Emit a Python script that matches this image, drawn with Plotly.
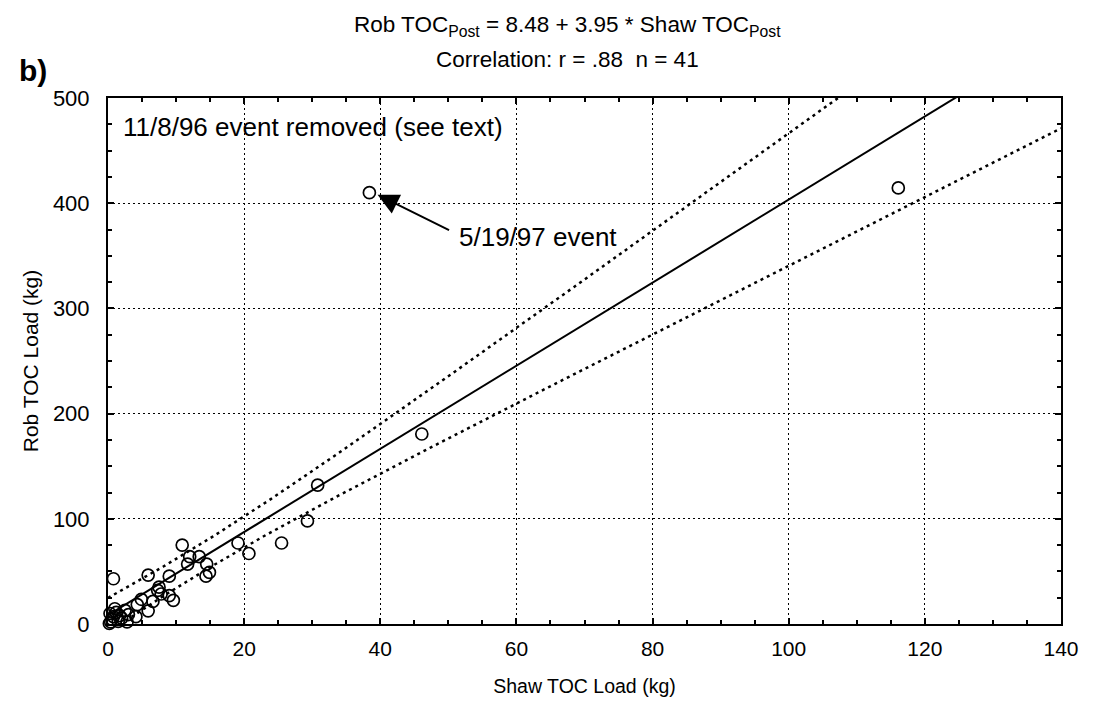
import numpy as np
import plotly.graph_objects as go

# Data
shaw_toc = [116.1, 38.4, 46.1, 30.8, 29.3, 25.5, 19.1, 20.7, 10.9, 12.0,
            13.4, 11.7, 14.5, 14.9, 14.4, 5.9, 9.0, 0.8, 7.5, 7.3,
            7.8, 9.0, 9.6, 4.9, 6.6, 4.3, 5.9, 4.1, 2.5, 1.0,
            0.8, 1.5, 0.4, 2.0, 0.3, 3.0, 0.6, 1.2, 2.8, 0.2, 1.7]
rob_toc = [414.5, 410.0, 180.6, 132.0, 98.0, 77.0, 77.0, 67.0, 75.0, 64.0,
           64.0, 57.0, 57.0, 49.0, 45.5, 46.5, 45.5, 43.0, 35.0, 32.0,
           28.5, 27.0, 22.5, 23.5, 21.5, 18.5, 12.5, 7.0, 13.0, 14.5,
           7.0, 2.5, 2.0, 5.5, 10.0, 9.0, 4.5, 11.0, 2.0, 0.5, 8.0]

intercept = 8.48
slope = 3.95
t_crit = 2.023  # t(0.975, n-2)

x_ticks = [0, 20, 40, 60, 80, 100, 120, 140]
y_ticks = [0, 100, 200, 300, 400, 500]

xa = np.array(shaw_toc)
ya = np.array(rob_toc)
n = len(xa)
xm = xa.mean()
sxx = ((xa - xm) ** 2).sum()
resid = ya - (intercept + slope * xa)
s = np.sqrt((resid ** 2).sum() / (n - 2))

xg = np.linspace(0, 140, 400)
yfit = intercept + slope * xg
half = t_crit * s * np.sqrt(1.0 / n + (xg - xm) ** 2 / sxx)

FONT = "Liberation Sans, Arial, Helvetica, sans-serif"

fig = go.Figure()
fig.add_trace(go.Scatter(x=xg, y=yfit + half, mode="lines",
                         line=dict(color="black", width=2.5, dash="3px,4px"),
                         hoverinfo="skip"))
fig.add_trace(go.Scatter(x=xg, y=yfit - half, mode="lines",
                         line=dict(color="black", width=2.5, dash="3px,4px"),
                         hoverinfo="skip"))
fig.add_trace(go.Scatter(x=xg, y=yfit, mode="lines",
                         line=dict(color="black", width=2)))
fig.add_trace(go.Scatter(x=shaw_toc, y=rob_toc, mode="markers",
                         cliponaxis=False,
                         marker=dict(symbol="circle-open", size=12,
                                     color="black", line=dict(width=1.7))))

axis_common = dict(
    showline=True, linecolor="black", linewidth=2, mirror="allticks",
    ticks="inside", ticklen=6, tickcolor="black", tickwidth=1.5,
    showgrid=True, gridcolor="black", gridwidth=1.3, griddash="2px,3px",
    zeroline=False,
)

fig.update_xaxes(range=[0, 140], tickvals=x_ticks,
                 tickfont=dict(family=FONT, size=21, color="black"),
                 ticklabelstandoff=5,
                 minor=dict(dtick=5, ticks="inside", ticklen=4,
                            tickcolor="black", showgrid=False),
                 title=dict(text="Shaw TOC Load (kg)",
                            font=dict(family=FONT, size=19.5, color="black"),
                            standoff=20),
                 **axis_common)
fig.update_yaxes(range=[0, 500], tickvals=y_ticks,
                 tickfont=dict(family=FONT, size=22, color="black"),
                 ticklabelstandoff=12,
                 minor=dict(dtick=25, ticks="inside", ticklen=4,
                            tickcolor="black", showgrid=False),
                 title=dict(text="Rob TOC Load (kg)",
                            font=dict(family=FONT, size=21, color="black"),
                            standoff=9),
                 **axis_common)

annotations = [
    dict(text="Rob TOC<sub>Post</sub> = 8.48 + 3.95 * Shaw TOC<sub>Post</sub>",
         xref="paper", yref="paper", x=0.482, y=1.0, yshift=72,
         xanchor="center", yanchor="middle", showarrow=False,
         font=dict(family=FONT, size=22.5, color="black")),
    dict(text="Correlation: r = .88  n = 41",
         xref="paper", yref="paper", x=0.482, y=1.0, yshift=39,
         xanchor="center", yanchor="middle", showarrow=False,
         font=dict(family=FONT, size=22.5, color="black")),
    dict(text="<b>b)</b>", xref="paper", yref="paper", x=0, y=1.0,
         xshift=-91, yshift=28, xanchor="left", yanchor="middle",
         showarrow=False, font=dict(family=FONT, size=30, color="black")),
    dict(text="11/8/96 event removed (see text)", xref="paper", yref="paper",
         x=0, y=1.0, xshift=13, yshift=-29, xanchor="left", yanchor="middle",
         showarrow=False, font=dict(family=FONT, size=26, color="black")),
    dict(text="", x=39.6, y=408, xref="x", yref="y", showarrow=True,
         ax=73, ay=36, arrowhead=2, arrowsize=2.1, arrowwidth=2,
         arrowcolor="black", standoff=0),
    dict(text="5/19/97 event", x=39.6, y=408, xref="x", yref="y",
         showarrow=False, xshift=79, yshift=-42, xanchor="left",
         yanchor="middle", font=dict(family=FONT, size=26, color="black")),
]

# The page body has an 8px default margin, so the figure is sized to fit
# the 1099x714 window exactly.
fig.update_layout(
    width=1083, height=698,
    margin=dict(l=100, r=20, t=90, b=70),
    paper_bgcolor="white", plot_bgcolor="white",
    showlegend=False,
    annotations=annotations,
    font=dict(family=FONT, color="black"),
)

fig.write_html("out.html")
